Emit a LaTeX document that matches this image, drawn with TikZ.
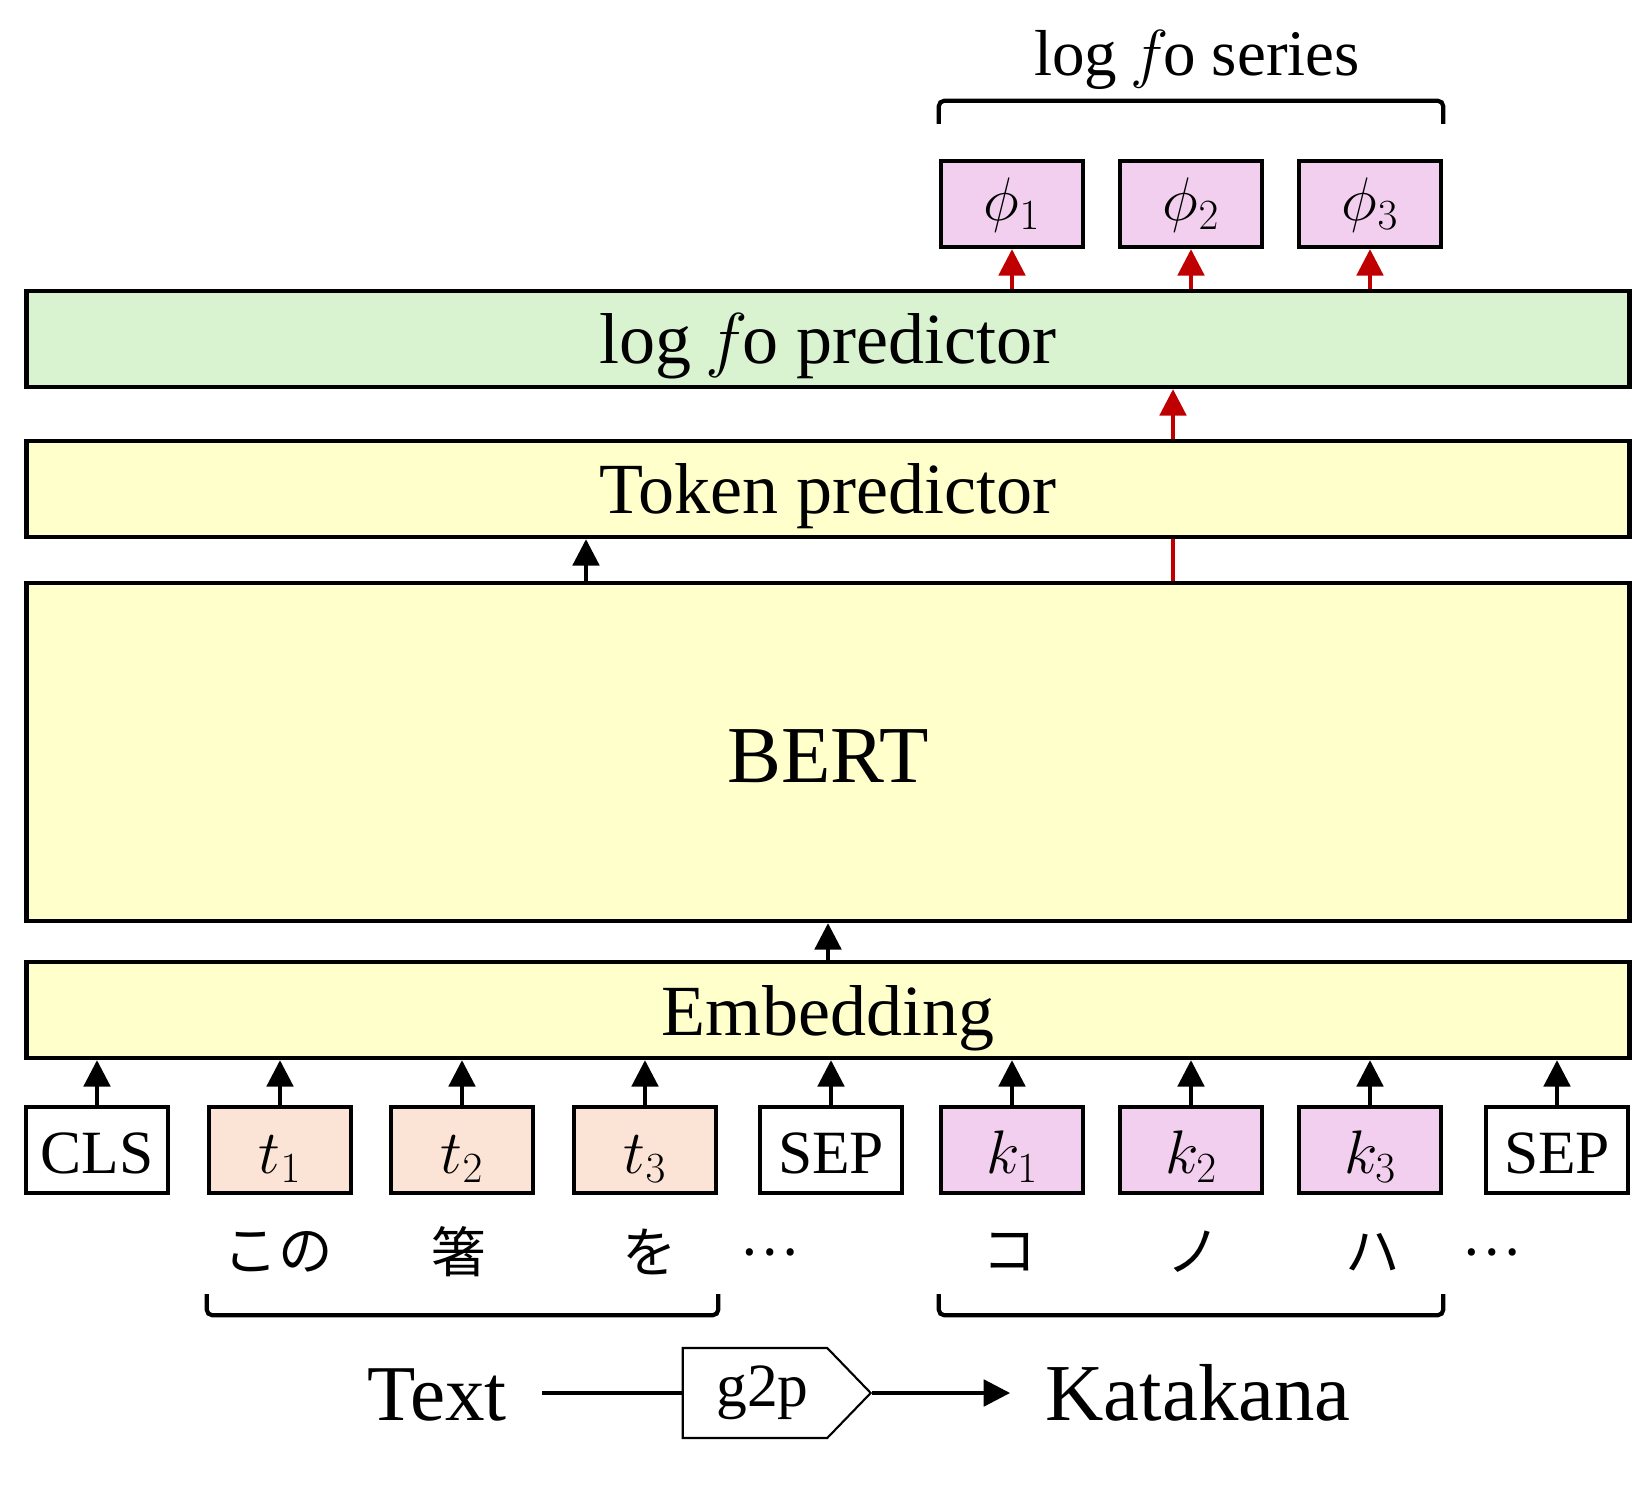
\RequirePackage{fix-cm}
\documentclass[tikz,border=0pt]{standalone}
\usepackage{fontspec}
\setmainfont{Liberation Serif}
\newfontfamily\jpfont{Noto Sans CJK JP}
\usetikzlibrary{arrows.meta,shapes.symbols}

\definecolor{layeryellow}{HTML}{FFFFCC}
\definecolor{layergreen}{HTML}{D9F2D0}
\definecolor{textpeach}{HTML}{FBE3D6}
\definecolor{kanapink}{HTML}{F2CFEE}
\definecolor{arrowred}{HTML}{C00000}

\newcommand{\logfo}{log\hspace{0.2em}$f$\hspace{-0.08em}o}

\tikzset{
  layerbox/.style={draw, line width=2.5pt, fill=layeryellow, minimum width=32.06cm,
    minimum height=1.92cm, inner sep=0pt, text height=1.0cm, text depth=0pt,
    font=\fontsize{41}{41}\selectfont},
  tokenbox/.style={draw, line width=2.5pt, fill=white, minimum width=2.84cm,
    minimum height=1.72cm, inner sep=0pt, text height=0.92cm, text depth=0pt,
    font=\fontsize{35}{35}\selectfont},
  kana/.style={font=\jpfont\fontsize{31}{31}\selectfont},
  uparrow/.style={line width=2.2pt, -{Triangle[length=15pt,width=15pt]}},
  bracketline/.style={line width=2.4pt, rounded corners=3pt},
}

\begin{document}
\begin{tikzpicture}[x=0.02cm, y=-0.02cm]
    \useasboundingbox (0,0) rectangle (1650,1493);

    % stacked layers
    \node[layerbox, fill=layergreen] (f0pred)  at (828,339) {\logfo{} predictor};
    \node[layerbox]                  (tokpred) at (828,489) {Token predictor};
    \node[layerbox, minimum height=6.76cm, text height=1.24cm,
          font=\fontsize{46}{46}\selectfont] (bert) at (828,752) {BERT};
    \node[layerbox]                  (emb)     at (828,1010) {Embedding};

    % input tokens
    \node[tokenbox]                (cls)  at (97,1150)   {CLS};
    \node[tokenbox,fill=textpeach] (t1)   at (280,1150)  {$t_1$};
    \node[tokenbox,fill=textpeach] (t2)   at (462,1150)  {$t_2$};
    \node[tokenbox,fill=textpeach] (t3)   at (645,1150)  {$t_3$};
    \node[tokenbox]                (sep1) at (831,1150)  {SEP};
    \node[tokenbox,fill=kanapink]  (k1)   at (1012,1150) {$k_1$};
    \node[tokenbox,fill=kanapink]  (k2)   at (1191,1150) {$k_2$};
    \node[tokenbox,fill=kanapink]  (k3)   at (1370,1150) {$k_3$};
    \node[tokenbox]                (sep2) at (1557,1150) {SEP};

    % outputs
    \node[tokenbox,fill=kanapink,text height=0.66cm] (phi1) at (1012,204) {$\phi_1$};
    \node[tokenbox,fill=kanapink,text height=0.66cm] (phi2) at (1191,204) {$\phi_2$};
    \node[tokenbox,fill=kanapink,text height=0.66cm] (phi3) at (1370,204) {$\phi_3$};
    \node[font=\fontsize{37}{37}\selectfont] (series) at (1197,60) {\logfo{} series};
    \draw[bracketline] ([yshift=0.7cm]phi1.north west) -- ([yshift=1.16cm]phi1.north west)
        -- ([yshift=1.16cm]phi3.north east) -- ([yshift=0.7cm]phi3.north east);

    % characters under the tokens
    \node[kana] (w1) at (278,1252)  {この};
    \node[kana] (w2) at (459,1252)  {箸};
    \node[kana] (w3) at (650,1252)  {を};
    \node[kana] (d1) at (769,1252)  {…};
    \node[kana] (w4) at (1010,1252) {コ};
    \node[kana] (w5) at (1194,1252) {ノ};
    \node[kana] (w6) at (1373,1252) {ハ};
    \node[kana] (d2) at (1491,1252) {…};
    \draw[bracketline] ([yshift=-1.98cm]t1.south west) -- ([yshift=-2.4cm]t1.south west)
        -- ([yshift=-2.4cm]t3.south east) -- ([yshift=-1.98cm]t3.south east);
    \draw[bracketline] ([yshift=-1.98cm]k1.south west) -- ([yshift=-2.4cm]k1.south west)
        -- ([yshift=-2.4cm]k3.south east) -- ([yshift=-1.98cm]k3.south east);

    % g2p row
    \node[font=\fontsize{45}{45}\selectfont, inner xsep=0.7cm, text height=1.08cm,
          text depth=0pt] (text) at (437,1393) {Text};
    \node[draw, line width=1.2pt, signal, signal to=east, signal pointer angle=92,
          minimum width=3.76cm, minimum height=1.8cm, inner sep=0pt,
          font=\fontsize{35}{35}\selectfont] (g2p) at (755,1393) {\hspace{0.3cm}g2p};
    \node[font=\fontsize{46}{46}\selectfont, inner xsep=0.7cm, text height=1.08cm,
          text depth=0pt] (kata) at (1198,1393) {Katakana};
    \draw[line width=2.2pt] (text.east) -- (g2p.west);
    \draw[uparrow] (g2p.east) -- (kata.west);

    % arrows
    \foreach \n in {cls,t1,t2,t3,sep1,k1,k2,k3,sep2}
        \draw[uparrow] (\n.north) -- (\n.north |- emb.south);
    \draw[uparrow] (emb.north) -- (bert.south);
    \coordinate (tokx) at (586,0);
    \coordinate (f0x) at (1173,0);
    \draw[uparrow] (tokx |- bert.north) -- (tokx |- tokpred.south);
    \draw[arrowred, line width=2.2pt] (f0x |- bert.north) -- (f0x |- tokpred.south);
    \draw[uparrow, arrowred] (f0x |- tokpred.north) -- (f0x |- f0pred.south);
    \foreach \n in {phi1,phi2,phi3}
        \draw[uparrow, arrowred] (\n.south |- f0pred.north) -- (\n.south);
\end{tikzpicture}
\end{document}
